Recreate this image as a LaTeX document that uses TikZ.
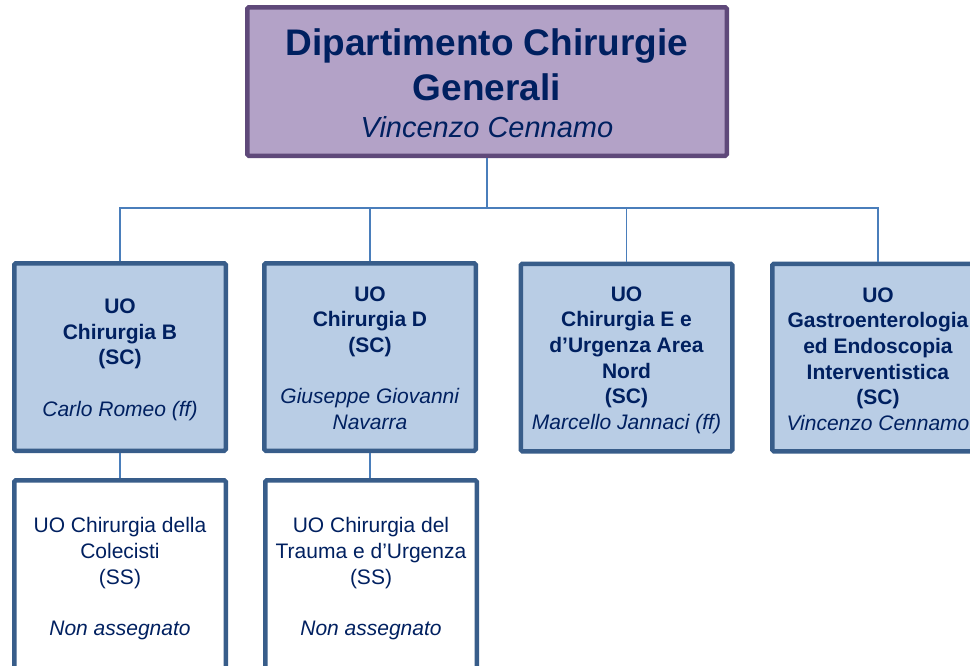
\documentclass[tikz,border=0pt]{standalone}
\usepackage{fontspec}
\setmainfont{Liberation Sans}
\definecolor{navy}{RGB}{0,32,96}
\definecolor{topfill}{RGB}{179,162,199}
\definecolor{topdraw}{RGB}{95,73,122}
\definecolor{uofill}{RGB}{185,205,229}
\definecolor{uodraw}{RGB}{56,93,138}
\definecolor{connc}{RGB}{74,126,187}
\tikzset{
  topbox/.style={draw=topdraw, fill=topfill, line width=4.5pt, rounded corners=1.5pt,
    minimum width=479.5pt, minimum height=148.5pt, inner sep=0pt, align=center,
    text=navy, font=\fontsize{37}{45}\selectfont\bfseries},
  uobox/.style={draw=uodraw, fill=uofill, line width=4.5pt, rounded corners=1.5pt,
    minimum width=211.5pt, minimum height=187.5pt, inner sep=0pt, align=center,
    text=navy, font=\fontsize{21}{25.7}\selectfont},
  ssbox/.style={uobox, fill=white, minimum height=192.5pt},
  conn/.style={draw=connc, line width=1.3pt}
}
\newcommand{\pushdown}{\rule{0pt}{20pt}}
\begin{document}
\begin{tikzpicture}[x=1pt,y=-1pt]
\useasboundingbox (0,0) rectangle (970,665);
\fill[white] (0,0) rectangle (970,665);
\node[topbox] (top) at (487,81.5) {\rule{0pt}{30pt}Dipartimento Chirurgie\\Generali\\[-8pt]{\mdseries\itshape\fontsize{29}{45}\selectfont Vincenzo Cennamo}};
\node[uobox] (b1) at (120,357) {\pushdown\textbf{UO}\\\textbf{Chirurgia B}\\\textbf{(SC)}\\[25.7pt]\textit{Carlo Romeo (ff)}};
\node[uobox] (b2) at (370,357) {\rule{0pt}{17pt}\textbf{UO}\\\textbf{Chirurgia D}\\\textbf{(SC)}\\[25.7pt]\textit{Giuseppe Giovanni}\\\textit{Navarra}};
\node[uobox] (b3) at (626.5,357.5) {\pushdown\textbf{UO}\\\textbf{Chirurgia E e}\\\textbf{d’Urgenza Area}\\\textbf{Nord}\\\textbf{(SC)}\\\textit{Marcello Jannaci (ff)}};
\node[uobox] (b4) at (878,357.5) {\rule{0pt}{18pt}\textbf{UO}\\\textbf{Gastroenterologia}\\\textbf{ed Endoscopia}\\\textbf{Interventistica}\\\textbf{(SC)}\\\textit{Vincenzo Cennamo}};
\node[ssbox] (s1) at (120,576.5) {\pushdown UO Chirurgia della\\Colecisti\\(SS)\\[25.7pt]\textit{Non assegnato}};
\node[ssbox] (s2) at (371,576.5) {\pushdown UO Chirurgia del\\Trauma e d’Urgenza\\(SS)\\[25.7pt]\textit{Non assegnato}};
\coordinate (bus) at (487,208);
\draw[conn] (top.south) -- (bus);
\draw[conn] (bus) -| (b1.north);
\draw[conn] (bus) -| (b2.north);
\draw[conn] (bus) -| (b3.north);
\draw[conn] (bus) -| (b4.north);
\draw[conn] (b1.south) -- (s1.north);
\draw[conn] (b2.south) -- (b2.south |- s2.north);
\end{tikzpicture}
\end{document}
